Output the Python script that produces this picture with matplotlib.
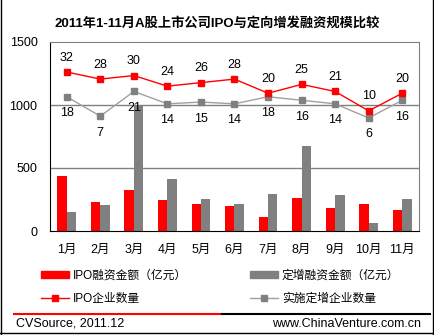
import matplotlib.pyplot as plt
from matplotlib.lines import Line2D
from matplotlib.patches import Patch
import numpy as np

plt.rcParams['font.family'] = ['Liberation Sans', 'Noto Sans CJK SC', 'DejaVu Sans']

# 数据
months = ['1月', '2月', '3月', '4月', '5月', '6月', '7月', '8月', '9月', '10月', '11月']
ipo_amount = [437, 230, 325, 246, 214, 198, 111, 262, 183, 214, 167]
pp_amount = [151, 206, 1000, 413, 254, 214, 294, 675, 286, 63, 254]
ipo_count = [32, 28, 30, 24, 26, 28, 20, 25, 21, 10, 20]
pp_count = [18, 7, 21, 14, 15, 14, 18, 16, 14, 6, 16]

RED = '#FF0000'
GRAY = '#808080'
W, H = 435, 335

fig = plt.figure(figsize=(W / 100, H / 100), dpi=100)
ax = fig.add_axes([50 / W, 1 - 231 / H, 369 / W, 189 / H])

x = np.arange(len(months))
bw = 0.28
ax.bar(x - bw / 2, ipo_amount, bw, color=RED, zorder=2)
ax.bar(x + bw / 2, pp_amount, bw, color=GRAY, zorder=2)

ax.set_xlim(-0.5, len(months) - 0.5)
ax.set_ylim(0, 1500)
ax.set_yticks([0, 500, 1000, 1500])
ax.set_xticks(x)
ax.set_xticklabels(months)
ax.tick_params(length=0, labelsize=9)
ax.tick_params(axis='x', pad=9)
ax.tick_params(axis='y', pad=9)
for v in [500, 1000]:
    ax.axhline(v, color=GRAY, lw=1, zorder=1)
ax.spines['top'].set_color(GRAY)
ax.spines['right'].set_color(GRAY)
ax.spines['left'].set_color('black')
ax.spines['bottom'].set_color('black')

# 企业数量（次坐标轴，隐藏）
ax2 = ax.twinx()
ax2.set_ylim(-58, 49)
ax2.axis('off')
ax2.plot(x, pp_count, color='#A0A0A0', lw=1, marker='s', ms=4, mfc=GRAY, mec=GRAY)
ax2.plot(x, ipo_count, color=RED, lw=1, marker='s', ms=4, mfc=RED, mec=RED)
for i in range(len(months)):
    ax2.annotate(str(ipo_count[i]), (x[i], ipo_count[i]), xytext=(0, 14.5),
                 textcoords='offset pixels', ha='center', va='center', fontsize=9)
    ax2.annotate(str(pp_count[i]), (x[i], pp_count[i]), xytext=(0, -16.5),
                 textcoords='offset pixels', ha='center', va='center', fontsize=9)

fig.text(0.5, 1 - 23 / H, '2011年1-11月A股上市公司IPO与定向增发融资规模比较',
         ha='center', va='center', fontsize=9.5, fontweight='bold')

# 图例
h1 = [Patch(color=RED), Line2D([], [], color=RED, lw=1, marker='s', ms=4)]
h2 = [Patch(color=GRAY), Line2D([], [], color='#A0A0A0', lw=1, marker='s', ms=4, mfc=GRAY, mec=GRAY)]
opts = dict(loc='upper left', frameon=False, fontsize=8.5, handlelength=2.4,
            handleheight=0.5, handletextpad=0.3, labelspacing=0.95,
            borderpad=0, borderaxespad=0)
fig.legend(h1, ['IPO融资金额（亿元）', 'IPO企业数量'],
           bbox_to_anchor=(41 / W, 1 - 270 / H), **opts)
fig.legend(h2, ['定增融资金额（亿元）', '实施定增企业数量'],
           bbox_to_anchor=(250 / W, 1 - 270 / H), **opts)

# 页脚
fig.add_artist(Line2D([14 / W, 222 / W], [1 - 314 / H] * 2, color=RED, lw=1.5))
fig.add_artist(Line2D([222 / W, 430 / W], [1 - 314 / H] * 2, color='black', lw=1.5))
fig.text(16 / W, 1 - 324 / H, 'CVSource, 2011.12', ha='left', va='center', fontsize=9)
fig.text(421 / W, 1 - 324 / H, 'www.ChinaVenture.com.cn', ha='right', va='center', fontsize=9)

# 外框
fig.add_artist(Line2D([1.5 / W, 1.5 / W], [0, 1], color='black', lw=1))
fig.add_artist(Line2D([433 / W, 433 / W], [0, 1], color='black', lw=1))
fig.add_artist(Line2D([0, 433 / W], [1 - 332.5 / H] * 2, color='black', lw=1))

fig.savefig('out.png', dpi=100)
